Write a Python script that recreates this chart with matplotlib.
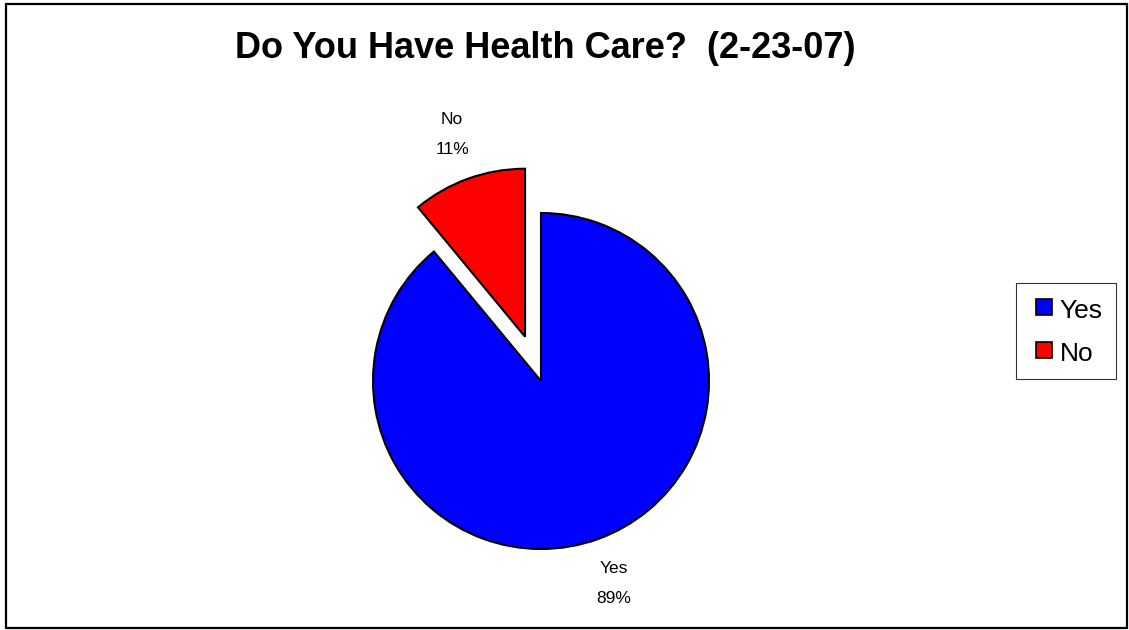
import matplotlib.pyplot as plt
from matplotlib.patches import Rectangle
from matplotlib.lines import Line2D

# datos de la encuesta
categorias = ['Yes', 'No']
porcentajes = [89, 11]
colores = ['#0000FF', '#FF0000']
separacion = [0, 0.28]

plt.rcParams['font.family'] = ['Liberation Sans', 'DejaVu Sans']

fig = plt.figure(figsize=(11.29, 6.30), dpi=100)

# marco exterior
fig.patches.append(Rectangle((6/1129, 2/630), 1121/1129, 624/630, transform=fig.transFigure,
                             fill=False, edgecolor='black', linewidth=1.6))

# ejes cuadrados centrados en el pastel
ax = fig.add_axes([341/1129, 49/630, 400/1129, 400/630])

etiquetas = [c + '\n' + str(p) + '%' for c, p in zip(categorias, porcentajes)]
wedges, textos = ax.pie(porcentajes, colors=colores, explode=separacion, startangle=90,
                        counterclock=False, labels=etiquetas, labeldistance=1.28,
                        wedgeprops=dict(edgecolor='black', linewidth=1.5))
for t in textos:
    t.set_horizontalalignment('center')
    t.set_verticalalignment('center')
    t.set_fontsize(12.5)
    t.set_linespacing(2.25)

ax.set_xlim(-200/168, 200/168)
ax.set_ylim(-200/168, 200/168)
ax.set_aspect('auto')
ax.axis('off')

fig.text(545/1129, 1 - 49/630, 'Do You Have Health Care?  (2-23-07)', ha='center', va='center',
         fontsize=26, fontweight='bold')

manijas = [Line2D([], [], linestyle='none', marker='s', markersize=11, markerfacecolor=c,
                  markeredgecolor='black', markeredgewidth=1.2) for c in colores]
leg = fig.legend(manijas, categorias, loc='upper left', bbox_to_anchor=(1016/1129, 1 - 283/630),
                 fontsize=19, frameon=True, fancybox=False, borderaxespad=0, handletextpad=0.05,
                 labelspacing=0.6, handlelength=1.1, handleheight=1.15, borderpad=0.5)
leg.get_frame().set_edgecolor('black')
leg.get_frame().set_linewidth(0.8)

plt.savefig('out.png', dpi=100)
